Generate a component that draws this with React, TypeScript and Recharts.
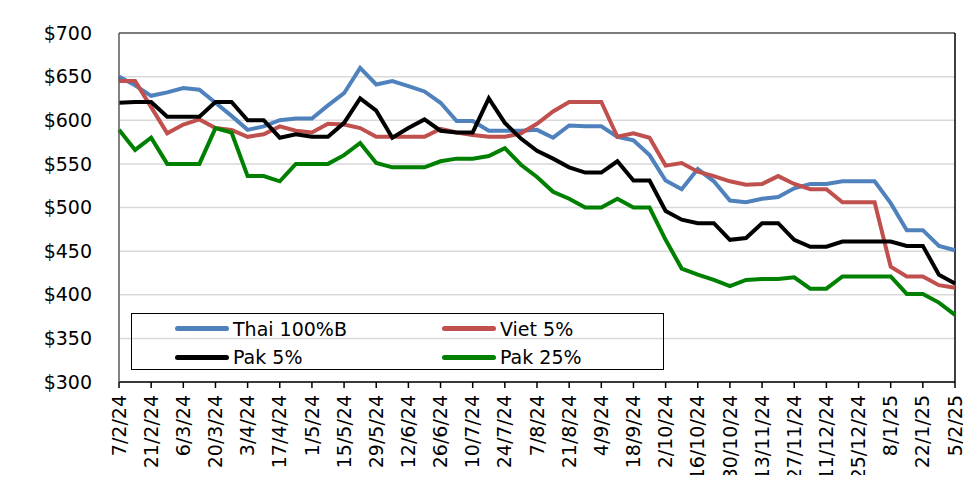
import {
  LineChart,
  Line,
  XAxis,
  YAxis,
  CartesianGrid,
  ReferenceLine
} from "recharts";

const dates = [
  "7/2/24","14/2/24","21/2/24","28/2/24","6/3/24","13/3/24","20/3/24","27/3/24",
  "3/4/24","10/4/24","17/4/24","24/4/24","1/5/24","8/5/24","15/5/24","22/5/24",
  "29/5/24","5/6/24","12/6/24","19/6/24","26/6/24","3/7/24","10/7/24","17/7/24",
  "24/7/24","31/7/24","7/8/24","14/8/24","21/8/24","28/8/24","4/9/24","11/9/24",
  "18/9/24","25/9/24","2/10/24","9/10/24","16/10/24","23/10/24","30/10/24","6/11/24",
  "13/11/24","20/11/24","27/11/24","4/12/24","11/12/24","18/12/24","25/12/24","1/1/25",
  "8/1/25","15/1/25","22/1/25","29/1/25","5/2/25"
]

const thai = [
  650,640,628,632,637,635,620,605,589,593,600,602,602,617,631,660,
  641,645,639,633,620,599,599,588,588,588,589,580,594,593,593,581,
  577,560,531,521,544,530,508,506,510,512,522,527,527,530,530,530,
  505,474,474,456,451
]

const viet = [
  645,645,615,585,595,601,591,589,581,584,593,588,586,596,595,591,
  581,581,581,581,590,586,583,581,581,585,596,610,621,621,621,581,
  585,580,548,551,541,536,530,526,527,536,527,521,521,506,506,506,
  432,421,421,411,408
]

const pak5 = [
  620,621,621,604,604,604,621,621,600,600,580,584,581,581,597,625,
  611,580,591,601,588,586,586,625,597,579,565,556,546,540,540,553,
  531,531,496,486,482,482,463,465,482,482,463,455,455,461,461,461,
  461,456,456,423,413
]

const pak25 = [
  589,566,580,550,550,550,591,586,536,536,530,550,550,550,560,574,
  551,546,546,546,553,556,556,559,568,549,535,518,510,500,500,510,
  500,500,463,430,423,417,410,417,418,418,420,407,407,421,421,421,
  421,401,401,391,377
]

const yTicks = [300,350,400,450,500,550,600,650,700]

const series = [
  {key:"thai", name:"Thai 100%B", color:"#4f81bd", values:thai},
  {key:"viet", name:"Viet 5%", color:"#c0504d", values:viet},
  {key:"pak5", name:"Pak 5%", color:"#000000", values:pak5},
  {key:"pak25", name:"Pak 25%", color:"#008000", values:pak25}
]

const data = dates.map((d,i)=>{
  const row:any = {date:d}
  series.forEach(s=>{ row[s.key] = s.values[i] })
  return row
})

const FONT = "'DejaVu Sans', sans-serif"

function XTick({x,y,payload}:any){
  return(
    <text
      x={x}
      y={y}
      transform={`rotate(-90 ${x} ${y})`}
      textAnchor="end"
      dy="0.35em"
      fontSize={19}
      fontFamily={FONT}
      fill="#000"
    >
      {payload.value}
    </text>
  )
}

function YTick({x,y,payload}:any){
  return(
    <text
      x={x-27}
      y={y}
      textAnchor="end"
      dy="0.35em"
      fontSize={19}
      fontFamily={FONT}
      fill="#000"
    >
      ${payload.value}
    </text>
  )
}

function LegendBox(){
  return(
    <div style={{
      position:"absolute",
      left:123,
      top:305,
      width:533,
      height:57,
      border:"1px solid #000",
      boxSizing:"border-box",
      display:"grid",
      gridTemplateColumns:"267px 266px",
      gridTemplateRows:"29px 28px",
      fontFamily:FONT,
      fontSize:19,
      color:"#000"
    }}>
      {series.map((s)=>(
        <div key={s.key} style={{display:"flex", alignItems:"center", paddingLeft:43}}>
          <span style={{
            display:"inline-block",
            width:54,
            height:5,
            borderRadius:3,
            background:s.color,
            marginRight:4
          }}/>
          <span>{s.name}</span>
        </div>
      ))}
    </div>
  )
}

export default function App(){

  return(

    <div style={{position:"relative", width:963, height:475, marginBottom:-8}}>

      <div style={{
        position:"absolute",
        left:-1,
        top:-1,
        width:963,
        height:476,
        borderTop:"1px solid #868686",
        borderLeft:"1px solid #868686"
      }}/>

      <LineChart
        width={963}
        height={475}
        data={data}
        margin={{top:25, right:16, bottom:6, left:11}}
      >

        <CartesianGrid horizontal={true} vertical={false} stroke="#d9d9d9" strokeWidth={1.5}/>

        <XAxis
          dataKey="date"
          interval={1}
          height={95}
          tick={<XTick/>}
          tickSize={6}
          tickMargin={7}
          stroke="#000"
          axisLine={{stroke:"#000", strokeWidth:1.5}}
          tickLine={{stroke:"#000", strokeWidth:1.5}}
        />

        <YAxis
          domain={[300,700]}
          ticks={yTicks}
          width={100}
          tick={<YTick/>}
          tickLine={false}
          tickSize={0}
          tickMargin={0}
          axisLine={{stroke:"#595959", strokeWidth:1.5}}
          interval={0}
        />

        <ReferenceLine y={700} stroke="#595959" strokeWidth={1.5}/>
        <ReferenceLine x="5/2/25" stroke="#000" strokeWidth={1.5}/>

        {series.map(s=>(
          <Line
            key={s.key}
            type="linear"
            dataKey={s.key}
            name={s.name}
            stroke={s.color}
            strokeWidth={4}
            dot={false}
            isAnimationActive={false}
          />
        ))}

      </LineChart>

      <LegendBox/>

    </div>

  )

}
